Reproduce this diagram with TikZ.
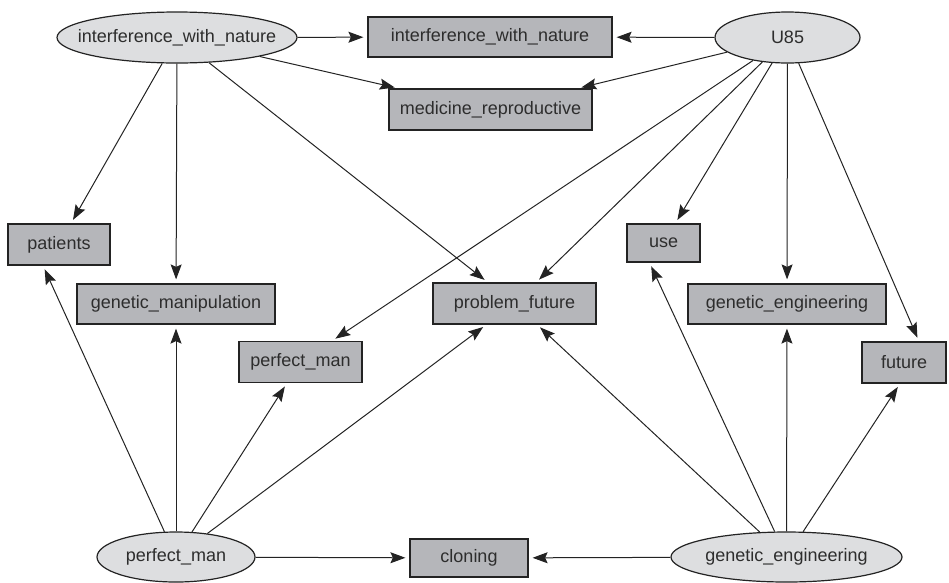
\documentclass[tikz,border=0pt]{standalone}
\usepackage{fontspec}
\setmainfont{Liberation Sans}
\usetikzlibrary{shapes.geometric,arrows.meta}
\definecolor{ellfill}{RGB}{221,222,224}
\definecolor{boxfill}{RGB}{181,182,186}
\definecolor{ink}{RGB}{35,35,35}
\definecolor{textink}{RGB}{45,45,45}
\tikzset{
  base/.style={draw=ink, line width=1.2pt, text=textink, inner sep=0pt,
    font=\fontsize{18}{20}\selectfont},
  factor/.style={base, ellipse, fill=ellfill},
  term/.style={base, rectangle, fill=boxfill},
  link/.style={draw=ink, line width=1pt, shorten >=4pt,
    -{Stealth[length=15pt,width=11pt,inset=2.5pt]}},
}
% zero-width text so the ellipse keeps its own size
\newcommand{\ctext}[1]{\makebox[0pt]{#1}}
\begin{document}
\begin{tikzpicture}[x=1pt,y=-1pt]
\useasboundingbox (0,0) rectangle (949,582);

% factors (ellipses)
\node[factor, minimum width=240pt, minimum height=51pt] (fI) at (177,37.5) {\ctext{interference\_with\_nature}};
\node[factor, minimum width=145pt, minimum height=51pt] (fU) at (787.5,37.5) {\ctext{U85}};
\node[factor, minimum width=158pt, minimum height=50pt] (fP) at (176,557) {\ctext{perfect\_man}};
\node[factor, minimum width=231pt, minimum height=50pt] (fG) at (786.5,557) {\ctext{genetic\_engineering}};

% terms (boxes)
\node[term, minimum width=244pt, minimum height=40pt] (tIwn) at (490,37) {interference\_with\_nature};
\node[term, minimum width=203pt, minimum height=41pt] (tMed) at (490.5,109.5) {medicine\_reproductive};
\node[term, minimum width=102pt, minimum height=41pt] (tPat) at (59,244.5) {patients};
\node[term, minimum width=198pt, minimum height=40pt] (tGm) at (176,304) {genetic\_manipulation};
\node[term, minimum width=123pt, minimum height=41pt] (tPm) at (300.5,362) {perfect\_man};
\node[term, minimum width=163pt, minimum height=41pt] (tPf) at (514.5,303.5) {problem\_future};
\node[term, minimum width=73pt, minimum height=38pt] (tUse) at (663.5,243) {use};
\node[term, minimum width=198pt, minimum height=40pt] (tGe) at (787,304) {genetic\_engineering};
\node[term, minimum width=84pt, minimum height=41pt] (tFut) at (904,362.5) {future};
\node[term, minimum width=118pt, minimum height=38pt] (tClo) at (469,558) {cloning};

% interference_with_nature
\draw[link] (fI) -- (tIwn);
\draw[link] (fI) -- (tMed);
\draw[link] (fI) -- (tPat);
\draw[link] (fI) -- (tGm);
\draw[link] (fI) -- (tPf);

% U85
\draw[link] (fU) -- (tIwn);
\draw[link] (fU) -- (tMed);
\draw[link] (fU) -- (tPm);
\draw[link] (fU) -- (tPf);
\draw[link] (fU) -- (tUse);
\draw[link] (fU) -- (tGe);
\draw[link] (fU) -- ([xshift=15pt]tFut.north);

% perfect_man
\draw[link] (fP) -- ([xshift=-16pt]tPat.south);
\draw[link] (fP) -- (tGm);
\draw[link] (fP) -- (tPm);
\draw[link] (fP) -- (tPf);
\draw[link] (fP) -- (tClo);

% genetic_engineering
\draw[link] (fG) -- ([xshift=-14pt]tUse.south);
\draw[link] (fG) -- (tPf);
\draw[link] (fG) -- (tGe);
\draw[link] (fG) -- ([xshift=-4pt]tFut.south);
\draw[link] (fG) -- (tClo);
\end{tikzpicture}
\end{document}
